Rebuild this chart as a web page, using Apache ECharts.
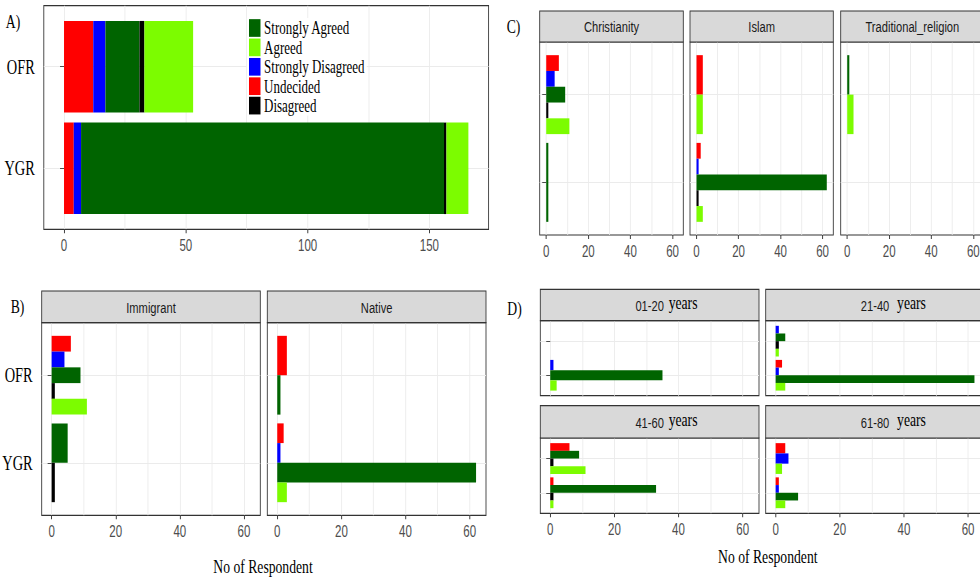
<!DOCTYPE html>
<html>
<head>
<meta charset="utf-8">
<script src="https://cdn.jsdelivr.net/npm/echarts@6/dist/echarts.min.js"></script>
<style>
  html, body { margin: 0; padding: 0; overflow: hidden; background: #fff; }
  #chart { height: 579px; transform-origin: 0 0; }
</style>
</head>
<body>
<div id="chart"></div>
<script>
// ---- data -------------------------------------------------------------
// Response levels in dodge/stack order (top-to-bottom / left-to-right)
const responses = ['Undecided', 'Strongly Disagreed', 'Strongly Agreed', 'Disagreed', 'Agreed'];
const legendOrder = ['Strongly Agreed', 'Agreed', 'Strongly Disagreed', 'Undecided', 'Disagreed'];
const groups = ['OFR', 'YGR'];
const ticksOverall = [0, 50, 100, 150];
const gridOverall = [0, 25, 50, 75, 100, 125, 150];
const ticksFacet = [0, 20, 40, 60];
const gridFacet = [0, 10, 20, 30, 40, 50, 60];

// A) overall counts, values follow `responses`
const overallOFR = [12, 5, 14, 2, 20];
const overallYGR = [4, 3, 149, 1, 9];

// B) by origin
const immigrantOFR = [6, 4, 9, 1, 11];
const immigrantYGR = [null, null, 5, 1, null];
const nativeOFR = [3, null, 1, null, null];
const nativeYGR = [2, 1, 62, null, 3];

// C) by religion
const christianityOFR = [6, 4, 9, 1, 11];
const christianityYGR = [null, null, 1, null, null];
const islamOFR = [3, null, null, null, 3];
const islamYGR = [2, 1, 62, 1, 3];
const traditionalOFR = [null, null, 1, null, 3];
const traditionalYGR = [null, null, null, null, null];

// D) by age band
const age01to20OFR = [null, null, null, null, null];
const age01to20YGR = [null, 1, 35, null, 2];
const age21to40OFR = [null, 1, 3, 1, 1];
const age21to40YGR = [2, 1, 62, null, 3];
const age41to60OFR = [6, null, 9, 1, 11];
const age41to60YGR = [1, null, 33, 1, 1];
const age61to80OFR = [3, 4, null, null, 2];
const age61to80YGR = [1, 1, 7, null, 3];

// ---- styling / layout ------------------------------------------------
const colors = {
  'Undecided': '#ff0000',
  'Strongly Disagreed': '#0000ff',
  'Strongly Agreed': '#006400',
  'Disagreed': '#000000',
  'Agreed': '#7cfc00'
};
const SANS = 'Liberation Sans, Arial, sans-serif';
const SERIF = 'Liberation Serif, Times New Roman, serif';
const S = 0.72;                 // horizontal condensing of the whole figure
const sx = v => v / S;          // screen x -> drawing x

const el = document.getElementById('chart');
el.style.width = Math.ceil(980 / S) + 'px';
el.style.transform = 'scaleX(' + S + ')';

const panelA = {
  left: 43.8, top: 5.7, width: 444.8, height: 223.6,
  min: -8.3, max: 174.3, ticks: ticksOverall, gridVals: gridOverall,
  yTicks: true, yLabels: true, xLabels: true, stacked: true,
  rows: [overallOFR, overallYGR]
};
const facetBase = { min: -3.1, max: 65.1, ticks: ticksFacet, gridVals: gridFacet };
const facets = [
  { left: 41.7, top: 322.7, width: 218.6, height: 192.6, strip: 31.7, title: 'Immigrant', rows: [immigrantOFR, immigrantYGR], yTicks: true, yLabels: true, xLabels: true },
  { left: 267.3, top: 322.7, width: 218.7, height: 192.6, strip: 31.7, title: 'Native', rows: [nativeOFR, nativeYGR], yTicks: false, yLabels: false, xLabels: true },
  { left: 539.7, top: 42, width: 143.6, height: 193, strip: 31, title: 'Christianity', rows: [christianityOFR, christianityYGR], yTicks: true, yLabels: false, xLabels: true },
  { left: 690, top: 42, width: 143.3, height: 193, strip: 31, title: 'Islam', rows: [islamOFR, islamYGR], yTicks: false, yLabels: false, xLabels: true },
  { left: 840.7, top: 42, width: 143.3, height: 193, strip: 31, title: 'Traditional_religion', rows: [traditionalOFR, traditionalYGR], yTicks: false, yLabels: false, xLabels: true },
  { left: 540.3, top: 320.7, width: 218.7, height: 75, strip: 31.4, title: '01-20', suffix: 'years', suffixDx: 19, rows: [age01to20OFR, age01to20YGR], yTicks: true, yLabels: false, xLabels: false },
  { left: 765.7, top: 320.7, width: 218.7, height: 75, strip: 31.4, title: '21-40', suffix: 'years', suffixDx: 22, rows: [age21to40OFR, age21to40YGR], yTicks: false, yLabels: false, xLabels: false },
  { left: 540.3, top: 438, width: 218.7, height: 75.3, strip: 32.3, title: '41-60', suffix: 'years', suffixDx: 19, rows: [age41to60OFR, age41to60YGR], yTicks: true, yLabels: false, xLabels: true },
  { left: 765.7, top: 438, width: 218.7, height: 75.3, strip: 32.3, title: '61-80', suffix: 'years', suffixDx: 22, rows: [age61to80OFR, age61to80YGR], yTicks: false, yLabels: false, xLabels: true }
].map(p => Object.assign({}, facetBase, p));

// ---- renderers -------------------------------------------------------
function renderStack(params, api) {
  const g = api.value(2);
  const a = api.coord([api.value(0), g]);
  const b = api.coord([api.value(1), g]);
  const h = Math.abs(api.size([0, 1])[1]) * 0.9;
  return {
    type: 'rect',
    shape: { x: a[0], y: a[1] - h / 2, width: b[0] - a[0], height: h },
    style: { fill: api.visual('color') }
  };
}
function renderDodge(params, api) {
  const v = api.value(0), g = api.value(1), slot = api.value(2), n = api.value(3);
  const base = api.coord([0, g]);
  const end = api.coord([v, g]);
  const groupH = Math.abs(api.size([0, 1])[1]) * 0.9;
  const h = groupH / n;
  return {
    type: 'rect',
    shape: { x: base[0], y: base[1] - groupH / 2 + slot * h, width: end[0] - base[0], height: h },
    style: { fill: api.visual('color') }
  };
}

// ---- build option ----------------------------------------------------
const grid = [], xAxis = [], yAxis = [], series = [], graphic = [];
const lineCol = '#333333';

[panelA].concat(facets).forEach((p, gi) => {
  grid.push({
    left: sx(p.left), top: p.top, width: sx(p.width), height: p.height,
    show: true, borderColor: lineCol, borderWidth: 1.2,
    containLabel: false, outerBoundsMode: 'none'
  });
  // grid lines (major + minor)
  xAxis.push({
    type: 'value', gridIndex: gi, position: 'bottom', min: p.min, max: p.max,
    axisLine: { show: false }, axisLabel: { show: false },
    axisTick: { show: false, customValues: p.gridVals },
    splitLine: { show: true, lineStyle: { color: '#ebebeb', width: 1.2 } }
  });
  // ticks and labels
  xAxis.push({
    type: 'value', gridIndex: gi, position: 'bottom', min: p.min, max: p.max,
    axisLine: { show: false }, splitLine: { show: false },
    axisTick: { show: p.xLabels, customValues: p.ticks, length: 4, lineStyle: { color: lineCol, width: 1.3 } },
    axisLabel: { show: p.xLabels, customValues: p.ticks, margin: 8, color: '#4d4d4d', fontFamily: SANS, fontSize: 16 }
  });
  yAxis.push({
    type: 'value', gridIndex: gi, position: 'left', min: -0.6, max: 1.6, inverse: true,
    axisLine: { show: false },
    axisTick: { show: p.yTicks, customValues: [0, 1], length: sx(4), lineStyle: { color: lineCol, width: 1 } },
    axisLabel: {
      show: p.yLabels, customValues: [0, 1], margin: sx(9),
      formatter: v => groups[Math.round(v)],
      color: '#000', fontFamily: SERIF, fontSize: 20
    },
    splitLine: { show: true, lineStyle: { color: '#ebebeb', width: 1.2 } }
  });

  responses.forEach((name, r) => {
    const data = [];
    p.rows.forEach((vals, g) => {
      if (vals[r] == null) return;
      if (p.stacked) {
        const start = vals.slice(0, r).reduce((s, v) => s + (v || 0), 0);
        data.push([start, start + vals[r], g]);
      } else {
        const present = responses.map((_, i) => i).filter(i => vals[i] != null);
        data.push([vals[r], g, present.indexOf(r), present.length]);
      }
    });
    series.push({
      type: 'custom', name,
      xAxisIndex: gi * 2 + 1, yAxisIndex: gi,
      itemStyle: { color: colors[name] },
      renderItem: p.stacked ? renderStack : renderDodge,
      encode: p.stacked ? { x: [0, 1], y: 2 } : { x: 0, y: 1 },
      data
    });
  });

  if (p.title) {
    const cx = p.left + p.width / 2;
    const cy = p.top - p.strip / 2;
    graphic.push({
      type: 'rect', z: 10,
      shape: { x: sx(p.left), y: p.top - p.strip, width: sx(p.width), height: p.strip },
      style: { fill: '#d9d9d9', stroke: lineCol, lineWidth: 1.2 }
    });
    graphic.push({
      type: 'text', z: 11, x: sx(cx), y: cy + 0.5,
      style: { text: p.title, fontFamily: SANS, fontSize: 15.5, fill: '#1a1a1a', align: 'center', verticalAlign: 'middle' }
    });
    if (p.suffix) {
      graphic.push({
        type: 'text', z: 11, x: sx(cx + p.suffixDx), y: cy - 2.5,
        style: { text: p.suffix, fontFamily: SERIF, fontSize: 19, fill: '#000', align: 'left', verticalAlign: 'middle' }
      });
    }
  }
});

// panel tags and axis titles
[['A)', 13, 22], ['B)', 17.5, 306.7], ['C)', 513.5, 27], ['D)', 514.5, 309]].forEach(([t, x, y]) => {
  graphic.push({ type: 'text', z: 11, x: sx(x), y,
    style: { text: t, fontFamily: SERIF, fontSize: 19, fill: '#000', align: 'center', verticalAlign: 'middle' } });
});
[[263, 567], [767.8, 556.7]].forEach(([x, y]) => {
  graphic.push({ type: 'text', z: 11, x: sx(x), y,
    style: { text: 'No of Respondent', fontFamily: SERIF, fontSize: 19, fill: '#000', align: 'center', verticalAlign: 'middle' } });
});

const chart = echarts.init(el, null, { renderer: 'svg' });
chart.setOption({
  animation: false,
  backgroundColor: '#fff',
  legend: {
    data: legendOrder, orient: 'vertical',
    left: sx(249) - 3, top: 18,
    padding: [1, 3, 1, 3],
    itemWidth: sx(11.5), itemHeight: 17.7, itemGap: 1.4,
    icon: 'rect', backgroundColor: '#fff', selectedMode: false,
    textStyle: { fontFamily: SERIF, fontSize: 18, color: '#000' }
  },
  grid, xAxis, yAxis, series, graphic
});
</script>
</body>
</html>
